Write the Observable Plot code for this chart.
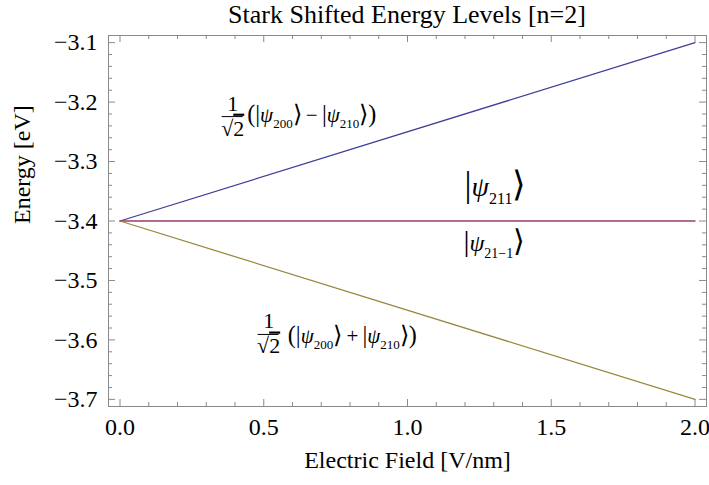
<!DOCTYPE html>
<html>
<head>
<meta charset="utf-8">
<script src="https://cdn.jsdelivr.net/npm/d3@7"></script>
<script src="https://cdn.jsdelivr.net/npm/@observablehq/plot@0.6"></script>
<style>
  html, body { margin: 0; padding: 0; background: #fff; overflow: hidden; }
  #title { width: 709px; height: 30px; box-sizing: border-box; padding-left: 108px; padding-right: 3px;
           font-family: "Liberation Serif", serif; font-size: 26px; line-height: 30px; text-align: center; color: #000; }
  svg { display: block; }
</style>
</head>
<body>
<div id="title">Stark Shifted Energy Levels [n=2]</div>
<div id="chart"></div>
<script>
// ---- data ----
const field = [0, 2];
const energyUpper = [-3.4, -3.1];
const energyMiddle = [-3.4, -3.4];
const energyLower = [-3.4, -3.7];

const xMajor = [0, 0.5, 1.0, 1.5, 2.0];
const xMinor = [0.1, 0.2, 0.3, 0.4, 0.6, 0.7, 0.8, 0.9, 1.1, 1.2, 1.3, 1.4, 1.6, 1.7, 1.8, 1.9];
const yMajor = [-3.7, -3.6, -3.5, -3.4, -3.3, -3.2, -3.1];
const yMinor = [-3.68, -3.66, -3.64, -3.62, -3.58, -3.56, -3.54, -3.52, -3.48, -3.46, -3.44, -3.42,
                -3.38, -3.36, -3.34, -3.32, -3.28, -3.26, -3.24, -3.22, -3.18, -3.16, -3.14, -3.12];

const titleText = "Stark Shifted Energy Levels [n=2]";
const xLabel = "Electric Field [V/nm]";
const yLabel = "Energy [eV]";

// annotation anchors (data units)
const fractions = [
  {x: 0.392, y: -3.2244},
  {x: 0.517, y: -3.5908}
];
const annotations = [
  {x: 0.667, y: -3.2227, t: "(|ψ_{200}⟩\u2009−\u2009|ψ_{210}⟩)", size: 21, sub: 13, big: 1.15},
  {x: 0.808, y: -3.5941, t: "(|ψ_{200}⟩\u2009+\u2009|ψ_{210}⟩)", size: 21, sub: 13, big: 1.15},
  {x: 1.306, y: -3.3425, t: "|ψ_{211}⟩", size: 28, sub: 16, big: 1.25},
  {x: 1.302, y: -3.4378, t: "|ψ_{21−1}⟩", size: 24, sub: 14, big: 1.25}
];
const sqrtLabels = fractions.map(f => ({...f, t: "√~{2}", size: 22, sub: 13, big: 1}));

// ---- layout ----
const W = 709, H = 455;
const mT = 5, mB = 79, mL = 108, mR = 3;
const iW = W - mL - mR, iH = H - mT - mB;
const grey = "#8a8a8a";

const series = [
  {name: "upper", values: energyUpper, color: "#3d3d99"},
  {name: "middle", values: energyMiddle, color: "#993d6b"},
  {name: "lower", values: energyLower, color: "#99883d"}
];
const rows = series.flatMap(s => field.map((f, i) => ({field: f, energy: s.values[i], name: s.name})));

const fmt = d3.format(".1f");

const svg = Plot.plot({
  width: W, height: H,
  marginTop: mT, marginBottom: mB, marginLeft: mL, marginRight: mR,
  style: {fontFamily: '"Liberation Serif", serif', background: "white", color: "black"},
  x: {domain: [-0.04, 2.04]},
  y: {domain: [-3.712, -3.088]},
  marks: [
    Plot.frame({stroke: grey}),
    // bottom ticks
    Plot.ruleX(xMajor, {insetTop: iH - 7, stroke: grey}),
    Plot.ruleX(xMinor, {insetTop: iH - 4, stroke: grey}),
    // top ticks
    Plot.ruleX(xMajor, {insetBottom: iH - 7, stroke: grey}),
    Plot.ruleX(xMinor, {insetBottom: iH - 4, stroke: grey}),
    // left ticks
    Plot.ruleY(yMajor, {insetRight: iW - 7, stroke: grey}),
    Plot.ruleY(yMinor, {insetRight: iW - 4, stroke: grey}),
    // right ticks
    Plot.ruleY(yMajor, {insetLeft: iW - 7, stroke: grey}),
    Plot.ruleY(yMinor, {insetLeft: iW - 4, stroke: grey}),
    Plot.axisX({ticks: xMajor, tickSize: 0, tickPadding: 11, tickFormat: fmt, fontSize: 24, label: null}),
    Plot.axisY({ticks: yMajor, tickSize: 0, tickPadding: 11, tickFormat: fmt, fontSize: 24, label: null}),
    ...series.map(s => Plot.line(rows.filter(r => r.name === s.name),
      {x: "field", y: "energy", stroke: s.color, strokeWidth: 1.3})),
    Plot.text([xLabel], {frameAnchor: "bottom", dy: 61, fontSize: 24}),
    Plot.text([yLabel], {frameAnchor: "left", rotate: -90, dx: -86, dy: 3, fontSize: 24}),
    // fractions 1/√2
    Plot.ruleY(fractions, {y: "y", x1: "x", x2: "x", insetLeft: -10.5, insetRight: -10.5, stroke: "black", strokeWidth: 1}),
    Plot.text(fractions, {x: "x", y: "y", text: () => "1", dy: -13, fontSize: 22}),
    Plot.text(sqrtLabels, {x: "x", y: "y", text: "t", dy: 12, fontSize: d => d.size}),
    Plot.text(annotations, {x: "x", y: "y", text: "t", fontSize: d => d.size})
  ]
});

// rich text: subscripts, italic psi, enlarged delimiters, overline
function rich(root, items) {
  const texts = Array.from(root.querySelectorAll("text"));
  items.forEach(it => {
    texts.filter(el => el.textContent === it.t).forEach(el => {
      const s = it.t;
      while (el.firstChild) el.removeChild(el.firstChild);
      const re = /_\{([^}]*)\}|~\{([^}]*)\}|([|⟩()ψ])|([^_~|⟩()ψ]+)/g;
      let m, shift = 0;
      while ((m = re.exec(s))) {
        const ts = document.createElementNS("http://www.w3.org/2000/svg", "tspan");
        let dy = 0;
        if (m[1] != null) {
          ts.textContent = m[1];
          ts.setAttribute("font-size", it.sub);
          const sh = it.size * 0.28;
          dy = sh - shift; shift = sh;
        } else {
          dy = -shift; shift = 0;
          if (m[2] != null) {
            ts.textContent = m[2];
            ts.setAttribute("text-decoration", "overline");
          } else if (m[3] != null) {
            ts.textContent = m[3];
            if (m[3] === "ψ") ts.setAttribute("font-style", "italic");
            else ts.setAttribute("font-size", it.size * it.big);
            if (m[3] === "⟩") ts.setAttribute("font-weight", "300");
          } else {
            ts.textContent = m[4];
          }
        }
        if (dy) ts.setAttribute("dy", dy);
        el.appendChild(ts);
      }
    });
  });
}
rich(svg, annotations);
rich(svg, sqrtLabels.slice(0, 1));

document.getElementById("chart").appendChild(svg);
</script>
</body>
</html>
